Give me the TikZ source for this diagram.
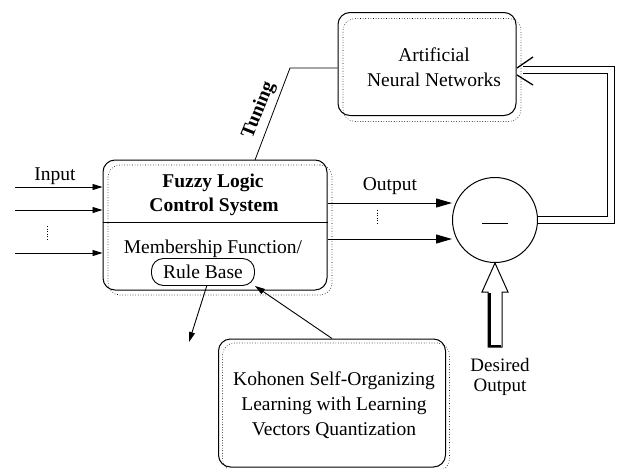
\documentclass[tikz,border=0pt]{standalone}
\usepackage{fontspec}
\setmainfont{Liberation Serif}
\usetikzlibrary{arrows.meta}
\begin{document}
\begin{tikzpicture}[x=1pt,y=-1pt,
  every node/.style={inner sep=0pt},
  txt/.style={font=\fontsize{19.5}{25}\selectfont},
  btxt/.style={font=\fontsize{19.5}{23}\selectfont\bfseries},
  box/.style={draw, line width=1pt, rounded corners=12pt},
  shad/.style={draw, dotted, line width=0.6pt, rounded corners=12pt},
  arr/.style={line width=0.9pt, -{Triangle[length=10pt,width=6pt]}},
  bigarr/.style={line width=0.9pt, -{Triangle[length=16pt,width=9pt]}}]
\useasboundingbox (0,0) rectangle (622,469);

% Fuzzy logic control system
\node[shad, minimum width=224pt, minimum height=130pt] (flcs) at (220,230) {};
\node[box, minimum width=224pt, minimum height=130pt] (flc) at (215,225) {};
\coordinate (dv) at (0,222);
\draw[line width=1pt] (flc.west |- dv) -- (flc.east |- dv);
\node[btxt] (t1) at (213,183) {Fuzzy Logic};
\node[btxt] (t2) at (214,207) {Control System};
\node[txt] (t3) at (213,249) {Membership Function/};
\node[draw, line width=0.9pt, rounded corners=12pt, minimum width=103pt, minimum height=27pt, txt] (rb) at (203,272) {Rule Base};

% inputs
\coordinate (i1) at (15,187);
\coordinate (i2) at (15,210);
\coordinate (i3) at (15,253);
\draw[arr] (i1) -- (flc.west |- i1);
\draw[arr] (i2) -- (flc.west |- i2);
\draw[arr] (i3) -- (flc.west |- i3);
\coordinate (d1a) at (47,226);
\coordinate (d1b) at (47,241);
\draw[dotted, line width=0.6pt] (d1a) -- (d1b);
\node[txt] (inl) at (55,176) {Input};

% comparator
\node[draw, circle, line width=1pt, minimum size=85pt] (cmp) at (495,220) {};
\coordinate (b1) at (482,223);
\coordinate (b2) at (508,223);
\draw[line width=1pt] (b1) -- (b2);

% outputs
\coordinate (o1) at (0,203);
\coordinate (o2) at (0,239);
\draw[bigarr] (flc.east |- o1) -- (cmp.west |- o1);
\draw[bigarr] (flc.east |- o2) -- (cmp.west |- o2);
\coordinate (d2a) at (377,210);
\coordinate (d2b) at (377,224);
\draw[dotted, line width=0.6pt] (d2a) -- (d2b);
\node[txt] (outl) at (390,186) {Output};

% desired output hollow arrow
\draw[line width=1pt, line join=miter] (cmp.south) -- (508,292) -- (502,292) -- (502,347) -- (488,347) -- (488,292) -- (482,292) -- cycle;
\draw[line width=2.5pt] (489.5,293) -- (489.5,346) -- (501,346);
\node[txt, align=center, font=\fontsize{19}{20}\selectfont] (des) at (500,377) {Desired\\Output};

% ANN
\node[shad, minimum width=178pt, minimum height=103pt] (anns) at (432,70) {};
\node[box, minimum width=178pt, minimum height=103pt] (ann) at (427,64) {};
\node[txt, align=center] (annt) at (434,67) {Artificial\\Neural Networks};

% feedback double line
\coordinate (fb) at (611,70);
\coordinate (fe) at (523,70);
\draw[line width=0.9pt, double distance=6pt] (cmp.east) -| (fb) -- (fe);
\coordinate (a1) at (533,57);
\coordinate (a2) at (517,68);
\coordinate (a3) at (517,75);
\coordinate (a4) at (533,85);
\draw[line width=1.3pt] (a1) -- (a2);
\draw[line width=1.3pt] (a3) -- (a4);

% tuning
\coordinate (tu1) at (290,68);
\coordinate (tu2) at (255,160);
\draw[line width=0.8pt] (ann.west |- tu1) -- (tu1) -- (tu2);
\node[btxt, rotate=68] (tun) at (259,110) {Tuning};

% Kohonen
\node[shad, minimum width=227pt, minimum height=128pt] (kohs) at (336,407) {};
\node[box, minimum width=227pt, minimum height=128pt] (koh) at (332,403) {};
\node[txt, align=center] (kt) at (334,405) {Kohonen Self-Organizing\\Learning with Learning\\Vectors Quantization};

\coordinate (rbo) at (189,342);
\draw[arr] (koh.north) -- (rb.south east);
\draw[arr] (rb.-75) -- (rbo);
\end{tikzpicture}
\end{document}
